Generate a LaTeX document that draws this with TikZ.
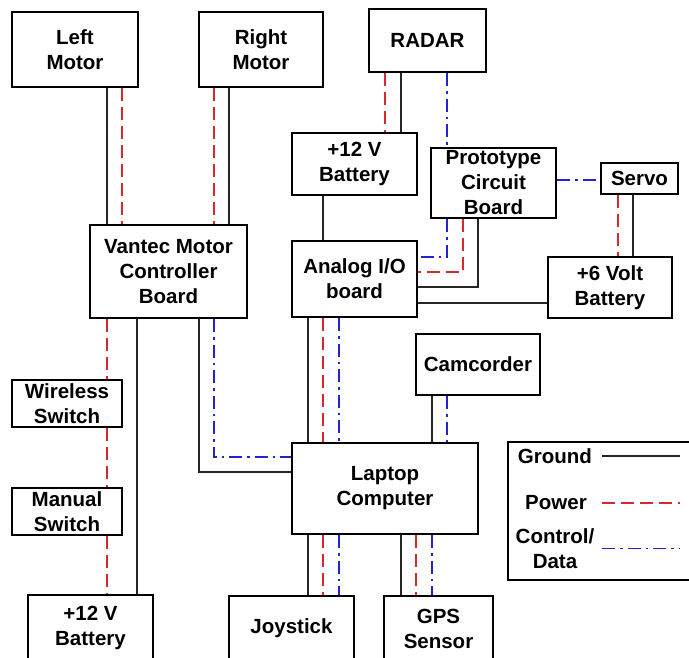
\documentclass[tikz,border=0pt]{standalone}
\usepackage{fontspec}
\setmainfont{Liberation Sans}
\definecolor{pwrred}{RGB}{215,40,45}
\definecolor{ctlblue}{RGB}{35,35,210}
\begin{document}
\begin{tikzpicture}[x=1pt,y=-1pt,
 box/.style={draw, line width=2.8pt, inner sep=0pt, align=center, fill=white,
   font=\bfseries\fontsize{20.5}{25}\selectfont},
 lbl/.style={inner sep=0pt, align=center, font=\bfseries\fontsize{20.5}{25}\selectfont},
 gnd/.style={line width=1.4pt, black!85},
 pwr/.style={line width=1.8pt, pwrred, dash pattern=on 13pt off 6pt},
 ctl/.style={line width=1.8pt, ctlblue, dash pattern=on 13pt off 5pt on 2.5pt off 5pt}]
\clip (0,0) rectangle (689,658);
\useasboundingbox (0,0) rectangle (689,658);
% boxes
\node[box, minimum width=126pt, minimum height=75pt] (lm) at (75,49.5) {Left\\Motor};
\node[box, minimum width=124pt, minimum height=75pt] (rm) at (261,49.5) {Right\\Motor};
\node[box, minimum width=117pt, minimum height=63pt] (radar) at (427.5,40.5) {RADAR};
\node[box, minimum width=125pt, minimum height=62pt] (bat1) at (354.5,164) {+12 V\\Battery};
\node[box, minimum width=125pt, minimum height=70pt] (proto) at (493.5,183) {Prototype\\Circuit\\Board};
\node[box, minimum width=77pt, minimum height=31pt] (servo) at (639.5,178.5) {Servo};
\node[box, minimum width=157pt, minimum height=93pt] (vantec) at (168.5,271.5) {Vantec Motor\\Controller\\Board};
\node[box, minimum width=125pt, minimum height=76pt] (aio) at (354.5,279) {Analog I/O\\board};
\node[box, minimum width=124pt, minimum height=61pt] (bat6) at (610,287.5) {+6 Volt\\Battery};
\node[box, minimum width=110pt, minimum height=47pt] (wsw) at (67,403.5) {Wireless\\Switch};
\node[box, minimum width=124pt, minimum height=61pt] (cam) at (478,364.5) {Camcorder};
\node[box, minimum width=186pt, minimum height=91pt] (laptop) at (385,488.5) {Laptop\\Computer};
\node[box, minimum width=110pt, minimum height=47pt] (msw) at (67,511.5) {Manual\\Switch};
\node[box, minimum width=125pt, minimum height=66pt] (bat2) at (90.5,628) {+12 V\\Battery};
\node[box, minimum width=125pt, minimum height=65pt] (joy) at (291.5,628.5) {Joystick};
\node[box, minimum width=109pt, minimum height=65pt] (gps) at (438.5,628.5) {GPS\\Sensor};
% legend
\node[box, minimum width=192pt, minimum height=138pt] (legend) at (604,511) {};
\node[lbl] (lg1) at (555,456) {Ground};
\node[lbl] (lg2) at (556,503) {Power};
\node[lbl] (lg3) at (555,548.5) {Control/\\Data};
\draw[gnd] (lg1.east -| 602,0) -- (lg1.east -| 680,0);
\draw[pwr] (lg2.east -| 602,0) -- (lg2.east -| 680,0);
\draw[ctl] (lg3.east -| 602,0) -- (lg3.east -| 680,0);
% motors to vantec
\draw[gnd] (lm.south -| 107,0) -- (vantec.north -| 107,0);
\draw[pwr] (lm.south -| 122,0) -- (vantec.north -| 122,0);
\draw[pwr] (rm.south -| 214,0) -- (vantec.north -| 214,0);
\draw[gnd] (rm.south -| 229,0) -- (vantec.north -| 229,0);
% radar
\draw[pwr] (radar.south -| 385,0) -- (bat1.north -| 385,0);
\draw[gnd] (radar.south -| 401,0) -- (bat1.north -| 401,0);
\draw[ctl] (radar.south -| 447,0) -- (proto.north -| 447,0);
% battery to analog
\draw[gnd] (bat1.south -| 323,0) -- (aio.north -| 323,0);
% proto to servo
\draw[ctl] (proto.east |- 0,180) -- (servo.west |- 0,180);
% servo to +6V
\draw[pwr] (servo.south -| 618,0) -- (bat6.north -| 618,0);
\draw[gnd] (servo.south -| 633,0) -- (bat6.north -| 633,0);
% proto to analog
\draw[ctl] (proto.south -| 447,0) |- (aio.east |- 0,257);
\draw[pwr] (proto.south -| 463,0) |- (aio.east |- 0,272);
\draw[gnd] (proto.south -| 478,0) |- (aio.east |- 0,287);
\draw[gnd] (aio.east |- 0,303) -- (bat6.west |- 0,303);
% analog to laptop
\draw[gnd] (aio.south -| 308,0) -- (laptop.north -| 308,0);
\draw[pwr] (aio.south -| 323,0) -- (laptop.north -| 323,0);
\draw[ctl] (aio.south -| 339,0) -- (laptop.north -| 339,0);
% camcorder to laptop
\draw[gnd] (cam.south -| 432,0) -- (laptop.north -| 432,0);
\draw[ctl] (cam.south -| 447,0) -- (laptop.north -| 447,0);
% vantec to laptop
\draw[gnd] (vantec.south -| 199,0) |- (laptop.west |- 0,472);
\draw[ctl] (vantec.south -| 214,0) |- (laptop.west |- 0,457);
% vantec power chain
\draw[pwr] (vantec.south -| 107,0) -- (wsw.north -| 107,0);
\draw[pwr] (wsw.south -| 107,0) -- (msw.north -| 107,0);
\draw[pwr] (msw.south -| 107,0) -- (bat2.north -| 107,0);
\draw[gnd] (vantec.south -| 137,0) -- (bat2.north -| 137,0);
% laptop to joystick / gps
\draw[gnd] (laptop.south -| 308,0) -- (joy.north -| 308,0);
\draw[pwr] (laptop.south -| 323,0) -- (joy.north -| 323,0);
\draw[ctl] (laptop.south -| 339,0) -- (joy.north -| 339,0);
\draw[gnd] (laptop.south -| 401,0) -- (gps.north -| 401,0);
\draw[pwr] (laptop.south -| 416,0) -- (gps.north -| 416,0);
\draw[ctl] (laptop.south -| 432,0) -- (gps.north -| 432,0);
\end{tikzpicture}
\end{document}
